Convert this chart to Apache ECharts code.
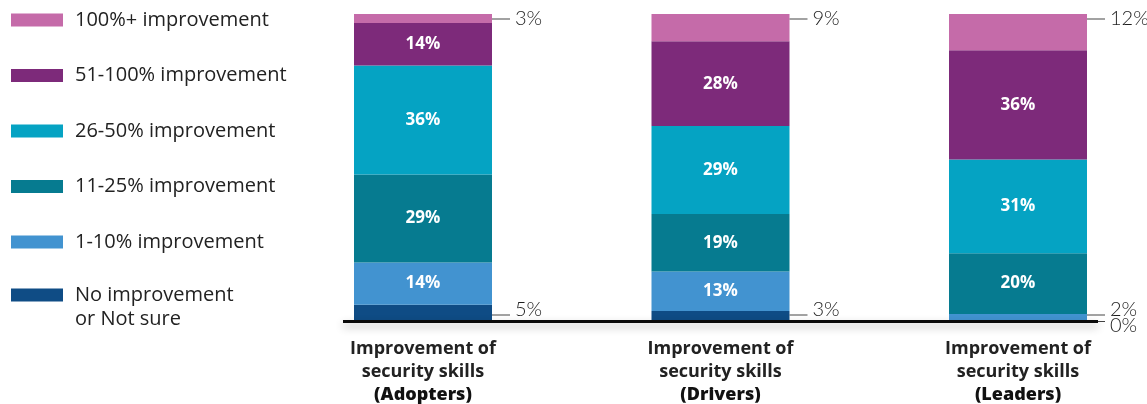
<!DOCTYPE html>
<html>
<head>
<meta charset="utf-8">
<script src="https://cdn.jsdelivr.net/npm/echarts@6/dist/echarts.min.js"></script>
<style>
html,body{margin:0;padding:0;background:#fff;}
#chart{width:1147px;height:404px;}
</style>
</head>
<body>
<div id="chart"></div>
<script>
// ---- data ----
const categories = ['Improvement of\nsecurity skills\n(Adopters)', 'Improvement of\nsecurity skills\n(Drivers)', 'Improvement of\nsecurity skills\n(Leaders)'];
const seriesNames = ['No improvement\nor Not sure', '1-10% improvement', '11-25% improvement', '26-50% improvement', '51-100% improvement', '100%+ improvement'];
const noImprovement = [5, 3, 0];
const imp1to10 = [14, 13, 2];
const imp11to25 = [29, 19, 20];
const imp26to50 = [36, 29, 31];
const imp51to100 = [14, 28, 36];
const imp100plus = [3, 9, 12];

const seriesValues = [noImprovement, imp1to10, imp11to25, imp26to50, imp51to100, imp100plus];
const colors = ['#0F4C85', '#4293D0', '#067B90', '#05A3C3', '#7D2A7A', '#C56BA9'];
const FONT = '"Open Sans", Lato, sans-serif';
const THIN = 'Lato, "Open Sans", sans-serif';

const totals = categories.map((c, i) => seriesValues.reduce((s, arr) => s + arr[i], 0));
const yMax = Math.max(...totals);

function calloutLabel(kind) {
  const va = kind === 'top' ? 'middle' : (kind === 'zero' ? 'top' : 'bottom');
  const lh = kind === 'top' ? 24 : (kind === 'zero' ? 10 : 12);
  const posY = kind === 'top' ? 0 : '100%';
  const offY = kind === 'top' ? 5 : (kind === 'zero' ? 6 : -10.5);
  return {
    show: true,
    position: ['100%', posY],
    align: 'left',
    verticalAlign: 'middle',
    offset: [0, offY],
    formatter: p => '{l| }{t|' + p.value + '%}',
    rich: {
      l: { width: 18, height: 1, lineHeight: 1, backgroundColor: '#444', verticalAlign: va },
      t: { fontSize: 20, fontWeight: 300, color: '#1e1e1e', fontFamily: THIN, lineHeight: lh, padding: [0, 0, 0, 5] }
    }
  };
}

const insideLabel = {
  show: true, position: 'inside', color: '#fff', fontFamily: FONT, fontSize: 17, fontWeight: 'bold',
  textBorderWidth: 0, formatter: p => p.value + '%'
};

const series = seriesValues.map((vals, si) => ({
  name: seriesNames[si],
  type: 'bar',
  stack: 'total',
  barWidth: 138,
  clip: false,
  itemStyle: { color: colors[si] },
  label: insideLabel,
  data: vals.map(v => {
    let label;
    if (si === seriesValues.length - 1) label = calloutLabel('top');
    else if (v === 0) label = calloutLabel('zero');
    else if (v < 10) label = calloutLabel('bottom');
    else label = insideLabel;
    return { value: v, label: label };
  })
}));

const legendText = { fontFamily: FONT, fontSize: 20, color: '#222', lineHeight: 24, padding: [0, 0, 0, 7] };

const chart = echarts.init(document.getElementById('chart'), null, { renderer: 'canvas' });
chart.setOption({
  animation: false,
  color: colors,
  grid: { left: 423, right: 129, top: 14, bottom: 84 },
  legend: [
    {
      orient: 'vertical', left: 11, top: 8, padding: 0, itemGap: 31.5,
      itemWidth: 52, itemHeight: 13, icon: 'rect', selectedMode: false,
      textStyle: legendText,
      data: seriesNames.slice(1).reverse()
    },
    {
      orient: 'vertical', left: 11, top: 259, padding: 0,
      itemWidth: 52, itemHeight: 13, icon: 'rect', selectedMode: false,
      textStyle: legendText,
      formatter: name => '\n' + name,
      data: [seriesNames[0]]
    }
  ],
  xAxis: {
    type: 'category',
    data: categories,
    boundaryGap: false,
    axisLine: { show: false },
    axisTick: { show: false },
    axisLabel: {
      interval: 0, margin: 17,
      formatter: v => {
        const lines = v.split('\n');
        return lines.map((l, i) => (i === lines.length - 1 ? '{b|' : '{a|') + l + '}').join('\n');
      },
      rich: {
        a: { fontFamily: FONT, fontSize: 18, fontWeight: 'bold', color: '#222', lineHeight: 23 },
        b: { fontFamily: FONT, fontSize: 18, fontWeight: 800, color: '#111', lineHeight: 23 }
      }
    }
  },
  yAxis: { type: 'value', min: 0, max: yMax, show: false, splitLine: { show: false } },
  series: series
});

const y0 = chart.convertToPixel({ yAxisIndex: 0 }, 0);
chart.setOption({
  graphic: [{
    type: 'line', z: 10,
    shape: { x1: 343, y1: y0 + 1.5, x2: 1098, y2: y0 + 1.5 },
    style: { stroke: '#0b0b0b', lineWidth: 3, shadowBlur: 8, shadowColor: 'rgba(0,0,0,0.3)', shadowOffsetY: 4 }
  }]
});
</script>
</body>
</html>
